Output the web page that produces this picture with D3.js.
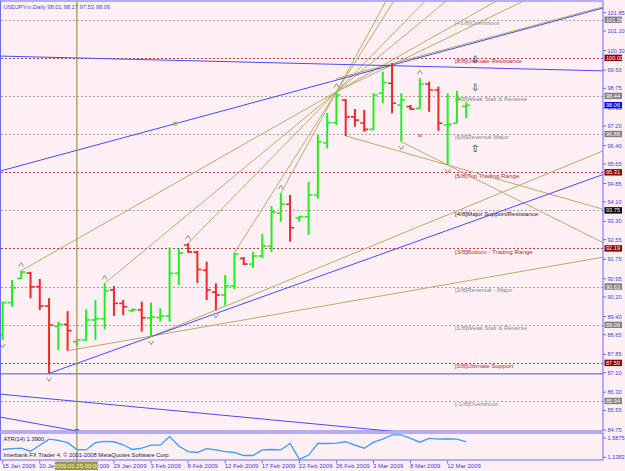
<!DOCTYPE html>
<html>
<head>
<meta charset="utf-8">
<script src="https://cdn.jsdelivr.net/npm/d3@7"></script>
<style>
  body { margin: 0; background: #fff0f5; }
  svg { display: block; font-family: "Liberation Sans", Arial, sans-serif; }
</style>
</head>
<body>
<svg width="625" height="471"></svg>
<script>
// USDJPYm daily bars, 15 Jan 2009 .. 15 Mar 2009 (broker has Sunday bars)
var dates = ["2009-01-15","2009-01-16","2009-01-18","2009-01-19","2009-01-20","2009-01-21","2009-01-22","2009-01-23",
  "2009-01-25","2009-01-26","2009-01-27","2009-01-28","2009-01-29","2009-01-30","2009-02-01","2009-02-02",
  "2009-02-03","2009-02-04","2009-02-05","2009-02-06","2009-02-08","2009-02-09","2009-02-10","2009-02-11",
  "2009-02-12","2009-02-13","2009-02-15","2009-02-16","2009-02-17","2009-02-18","2009-02-19","2009-02-20",
  "2009-02-22","2009-02-23","2009-02-24","2009-02-25","2009-02-26","2009-02-27","2009-03-01","2009-03-02",
  "2009-03-03","2009-03-04","2009-03-05","2009-03-06","2009-03-08","2009-03-09","2009-03-10","2009-03-11",
  "2009-03-12","2009-03-13","2009-03-15"];
var opens  = [88.64,89.97,90.96,91.18,90.62,89.83,89.00,89.08,88.37,88.44,89.26,89.31,90.49,89.94,89.64,89.67,
  89.34,89.36,89.42,91.17,92.33,92.04,91.30,90.40,90.28,90.65,91.78,91.55,91.88,92.29,93.63,94.00,
  93.44,93.49,94.38,96.51,97.34,98.27,97.58,97.33,97.07,98.55,98.96,98.07,98.00,97.93,98.93,98.68,
  97.25,97.32,98.01];
var highs  = [90.01,90.90,91.28,91.23,90.94,90.15,89.19,89.62,88.47,89.69,90.08,90.76,90.65,90.08,89.74,90.01,
  89.97,89.74,92.23,92.19,92.40,92.08,91.65,90.76,91.10,92.01,91.84,92.05,92.78,93.93,94.45,94.38,
  93.52,94.92,96.84,97.74,98.61,98.31,97.90,97.86,98.55,99.43,99.79,98.55,98.07,99.16,99.02,98.82,
  98.55,98.65,98.17];
var lows   = [88.44,89.80,90.94,90.15,89.67,87.07,88.03,88.00,88.19,88.41,88.44,88.87,89.42,89.45,89.58,88.78,
  88.57,89.19,89.19,90.69,92.01,90.77,90.08,89.67,89.87,90.51,91.51,91.39,91.80,92.04,93.28,92.46,
  93.28,92.74,94.24,96.29,97.25,96.80,97.18,96.97,97.04,98.14,97.73,96.56,97.86,97.90,97.79,97.01,
  95.61,97.32,97.53];
var closes = [89.97,90.58,91.22,90.62,89.83,89.05,89.08,88.82,88.44,89.26,89.31,90.46,89.94,89.80,89.68,89.35,
  89.38,89.42,91.17,92.01,92.05,91.33,90.49,90.28,90.65,91.96,91.55,91.88,92.29,93.69,94.00,93.04,
  93.50,94.38,96.56,97.34,98.48,97.58,97.45,97.07,98.48,98.98,98.14,98.27,97.90,98.93,98.68,97.32,
  97.28,98.30,98.06];
var atr = [1.32,1.34,1.35,1.28,1.42,1.56,1.53,1.48,1.32,1.31,1.48,1.51,1.50,1.43,1.32,1.35,
  1.42,1.42,1.62,1.40,1.27,1.25,1.34,1.31,1.27,1.25,1.18,1.18,1.31,1.32,1.31,1.46,
  1.09,1.19,1.46,1.46,1.47,1.50,1.42,1.35,1.49,1.56,1.66,1.66,1.58,1.49,1.58,1.56,
  1.57,1.56,1.50];

var priceTicks = [101.85,101.10,100.30,99.50,98.75,97.95,97.20,96.40,95.65,94.85,94.10,93.30,92.55,91.75,
  90.95,90.20,89.40,88.65,87.85,87.10,86.30,85.55,84.75];
var atrTicks = [1.5875, 1.1382];
var dateTickBars = [0,4,8,12,16,20,24,28,32,36,40,44,48];

// Murrey math levels
var murreyLevels = [101.56,100.00,98.44,96.88,95.31,93.75,92.19,90.63,89.06,87.50,85.94];
var murreyNames = ["[+1/8]Overshoot","[8/8]Ultimate Resistance","[7/8]Weak Stall & Reverse","[6/8]Reversal Major",
  "[5/8]Top Trading Range","[4/8]Major Support/Resistance","[3/8]Bottom - Trading Range","[2/8]Reversal - Major",
  "[1/8]Weak Stall & Reverse","[0/8]Ultimate Support","[-1/8]Overshoot"];
var murreyKind = ["grey","red","grey","grey","red","black","red","grey","grey","red","grey"];

// fractal marks (bar index)
var fractalHighs = [2,11,20,30,36,45];
var fractalLows = [0,5,16,23,43,48];

// trend lines: [bar1, price1, bar2, price2, extension]
var blueLines = [
  [18.6, 97.30, 58.5, 101.40, "both"],
  [0, 100.07, 58, 99.53, "both"],
  [5, 87.07, 16, 88.57, "right"],
  [0, 87.05, 50, 87.05, "both"],
  [0, 86.21, 40, 84.77, "both"],
  [0, 85.26, 8, 84.71, "left"]
];
var apex = [36, 98.61];
var fanPivots = [[2, 91.28], [11, 90.76], [20, 92.40], [25, 92.01], [30, 94.45]];
var oliveLines = [
  [36, 98.61, 49.3, 101.06, "right"],
  [36, 99.15, 58.5, 101.45, "right"],
  [7, 88.00, 40, 90.19, "right"],
  [16, 88.57, 40, 92.32, "right"],
  [37, 96.80, 48, 95.61, "right"],
  [43, 96.56, 48, 95.61, "right"]
];
var cursorBar = 8;
var lastPrice = 98.06;
var atrLabel = "ATR(14) 1.3900";

var svg = d3.select("svg");
var parse = d3.timeParse("%Y-%m-%d");
var days = dates.map(parse);

var frame = "#6a6af0", axisText = "#4040d0";
var plot = {left: 1, right: 603, top: 1.5, bottom: 431};
var sub = {top: 433.5, bottom: 460.5};

var x = d3.scaleLinear().domain([0, 50]).range([2.7, 466.2]);
var y = d3.scaleLinear().domain([84.75, 101.85]).range([430, 12.7]);
var ya = d3.scaleLinear().domain([1.1382, 1.5875]).range([457.3, 438]);

svg.append("rect").attr("width", 625).attr("height", 471).attr("fill", "#fff0f5");

var defs = svg.append("defs");
defs.append("clipPath").attr("id", "clipMain").append("rect")
  .attr("x", plot.left).attr("y", plot.top)
  .attr("width", plot.right - plot.left).attr("height", plot.bottom - plot.top);
defs.append("clipPath").attr("id", "clipSub").append("rect")
  .attr("x", plot.left).attr("y", sub.top)
  .attr("width", plot.right - plot.left).attr("height", sub.bottom - sub.top);

var main = svg.append("g").attr("clip-path", "url(#clipMain)");

// murrey lines
var mColor = {grey: "#a8a0a0", red: "#b04040", black: "#a8a0a0"};
var mText = {grey: "#8a8a8a", red: "#a83030", black: "#202020"};
main.selectAll(".mm").data(murreyLevels).join("line")
  .attr("x1", plot.left).attr("x2", plot.right)
  .attr("y1", d => Math.round(y(d)) + 0.5).attr("y2", d => Math.round(y(d)) + 0.5)
  .attr("stroke", (d, i) => mColor[murreyKind[i]])
  .attr("stroke-dasharray", "2,2");
main.selectAll(".mmt").data(murreyLevels).join("text")
  .attr("x", 455).attr("y", d => y(d) + 5.5)
  .attr("font-size", 6.2)
  .attr("fill", (d, i) => mText[murreyKind[i]])
  .text((d, i) => murreyNames[i]);

// trend lines
function ends(l) {
  var k = (l[3] - l[1]) / (l[2] - l[0]);
  var a = l[4] === "right" ? l[0] : -5;
  var b = l[4] === "left" ? l[2] : 70;
  return [[x(a), y(l[1] + k * (a - l[0]))], [x(b), y(l[1] + k * (b - l[0]))]];
}
var fanLines = fanPivots.map(p => [p[0], p[1], apex[0], apex[1], "right"]);
var olive = "#b8aa68";
main.selectAll(".ol").data(fanLines.concat(oliveLines)).join("path")
  .attr("d", d => d3.line()(ends(d)))
  .attr("stroke", olive).attr("fill", "none").attr("stroke-width", 1);
main.selectAll(".bl").data(blueLines).join("path")
  .attr("d", d => d3.line()(ends(d)))
  .attr("stroke", "#4a4af5").attr("fill", "none").attr("stroke-width", 1);
main.selectAll(".bm").data([blueLines[0], blueLines[5]]).join("rect")
  .attr("x", (d, i) => x(d[i ? 2 : 0]) - 1.5)
  .attr("y", (d, i) => y(d[i ? 3 : 1]) - 1.5)
  .attr("width", 3).attr("height", 3)
  .attr("fill", "none").attr("stroke", (d, i) => i ? "#4a4af5" : olive);

// OHLC bars
var idx = d3.range(dates.length);
var col = i => closes[i] >= opens[i] ? "#22ee22" : "#f02828";
var bars = main.selectAll(".bar").data(idx).join("g").attr("stroke", col);
bars.append("line").attr("x1", x).attr("x2", x)
  .attr("y1", i => y(highs[i])).attr("y2", i => y(lows[i])).attr("stroke-width", 2);
bars.append("line").attr("x1", i => x(i) - 4).attr("x2", x)
  .attr("y1", i => y(opens[i])).attr("y2", i => y(opens[i])).attr("stroke-width", 1.6);
bars.append("line").attr("x1", x).attr("x2", i => x(i) + 4)
  .attr("y1", i => y(closes[i])).attr("y2", i => y(closes[i])).attr("stroke-width", 1.6);

// fractal marks
main.selectAll(".fh").data(fractalHighs).join("path")
  .attr("d", i => "M" + (x(i) - 2.5) + "," + (y(highs[i]) - 4) + "l2.5,-4l2.5,4")
  .attr("stroke", "#909090").attr("fill", "none");
main.selectAll(".fl").data(fractalLows).join("path")
  .attr("d", i => "M" + (x(i) - 2.5) + "," + (y(lows[i]) + 4) + "l2.5,4l2.5,-4")
  .attr("stroke", "#909090").attr("fill", "none");
main.append("text").attr("x", x(45)).attr("y", y(96.80) + 2.5)
  .attr("text-anchor", "middle").attr("font-size", 8).attr("fill", "#e02020").text("×");

// hollow arrows near the levels
main.selectAll(".arr").data([[99.95, "⇩"], [98.80, "⇩"], [96.30, "⇧"]]).join("text")
  .attr("x", x(51)).attr("y", d => y(d[0]) + 3.5)
  .attr("text-anchor", "middle").attr("font-size", 10).attr("fill", "#202020")
  .text(d => d[1]);

// cursor vertical line
svg.append("line").attr("x1", x(cursorBar)).attr("x2", x(cursorBar))
  .attr("y1", plot.top).attr("y2", sub.bottom)
  .attr("stroke", "#a49c48").attr("stroke-width", 1.3);

// ATR sub window
svg.append("path").datum(idx).attr("clip-path", "url(#clipSub)")
  .attr("d", d3.line().x(x).y(i => ya(atr[i])))
  .attr("fill", "none").attr("stroke", "#3d9bf5").attr("stroke-width", 1.3);

// frames
svg.append("rect").attr("x", plot.left - 0.5).attr("y", plot.top - 0.5)
  .attr("width", plot.right - plot.left + 0.5).attr("height", plot.bottom - plot.top + 0.5)
  .attr("fill", "none").attr("stroke", frame);
svg.append("rect").attr("x", plot.left - 0.5).attr("y", sub.top - 0.5)
  .attr("width", plot.right - plot.left + 0.5).attr("height", sub.bottom - sub.top)
  .attr("fill", "none").attr("stroke", frame);

// price axis
var pa = svg.append("g");
pa.selectAll("line").data(priceTicks).join("line")
  .attr("x1", plot.right).attr("x2", plot.right + 3)
  .attr("y1", y).attr("y2", y).attr("stroke", frame);
pa.selectAll("text").data(priceTicks).join("text")
  .attr("x", plot.right + 4.5).attr("y", d => y(d) + 2)
  .attr("font-size", 5.6).attr("fill", axisText)
  .text(d => d.toFixed(2));

var boxFill = {grey: "#808080", red: "#8b0000", black: "#000000"};
var boxes = murreyLevels.map((d, i) => [d, boxFill[murreyKind[i]]]).concat([[lastPrice, "#0000ff"]]);
var bx = svg.selectAll(".box").data(boxes).join("g");
bx.append("rect").attr("x", plot.right + 1.5).attr("y", d => y(d[0]) - 3.2)
  .attr("width", 17.5).attr("height", 6.4).attr("fill", d => d[1]);
bx.append("text").attr("x", plot.right + 3).attr("y", d => y(d[0]) + 2)
  .attr("font-size", 5.6).attr("fill", "#ffffff").text(d => d[0].toFixed(2));

// ATR axis
svg.selectAll(".at").data(atrTicks).join("text")
  .attr("x", plot.right + 4.5).attr("y", d => ya(d) + 2)
  .attr("font-size", 5.6).attr("fill", axisText).text(d => d.toFixed(4));
svg.selectAll(".atl").data(atrTicks).join("line")
  .attr("x1", plot.right).attr("x2", plot.right + 3)
  .attr("y1", ya).attr("y2", ya).attr("stroke", frame);

// date axis
var fmt = d3.timeFormat("%-d %b %Y");
svg.selectAll(".dt").data(dateTickBars).join("line")
  .attr("x1", x).attr("x2", x).attr("y1", sub.bottom).attr("y2", sub.bottom + 3)
  .attr("stroke", frame);
svg.selectAll(".dl").data(dateTickBars).join("text")
  .attr("x", i => x(i) - 0.5).attr("y", 468)
  .attr("font-size", 6).attr("fill", axisText)
  .text(i => fmt(days[i]));

// cursor date box
svg.append("rect").attr("x", x(cursorBar) - 22).attr("y", 461.5)
  .attr("width", 43).attr("height", 8.5).attr("fill", "#9c9a3c");
svg.append("text").attr("x", x(cursorBar) - 0.5).attr("y", 468)
  .attr("text-anchor", "middle").attr("font-size", 6).attr("fill", "#f4f0d8")
  .text(d3.timeFormat("%Y.%m.%d %H:%M")(days[cursorBar]));

// texts
svg.append("text").attr("x", 3.5).attr("y", 9).attr("font-size", 5.8).attr("fill", "#4646e6")
  .text("USDJPYm,Daily  " + [opens[50], highs[50], lows[50], closes[50]].map(d => d.toFixed(2)).join(" "));
svg.append("text").attr("x", 3.5).attr("y", 441).attr("font-size", 5.8).attr("fill", "#202050")
  .text(atrLabel);
svg.append("text").attr("x", 3.5).attr("y", 457).attr("font-size", 5.8).attr("fill", "#202050")
  .text("Interbank FX Trader 4, © 2001-2008 MetaQuotes Software Corp.");
</script>
</body>
</html>
